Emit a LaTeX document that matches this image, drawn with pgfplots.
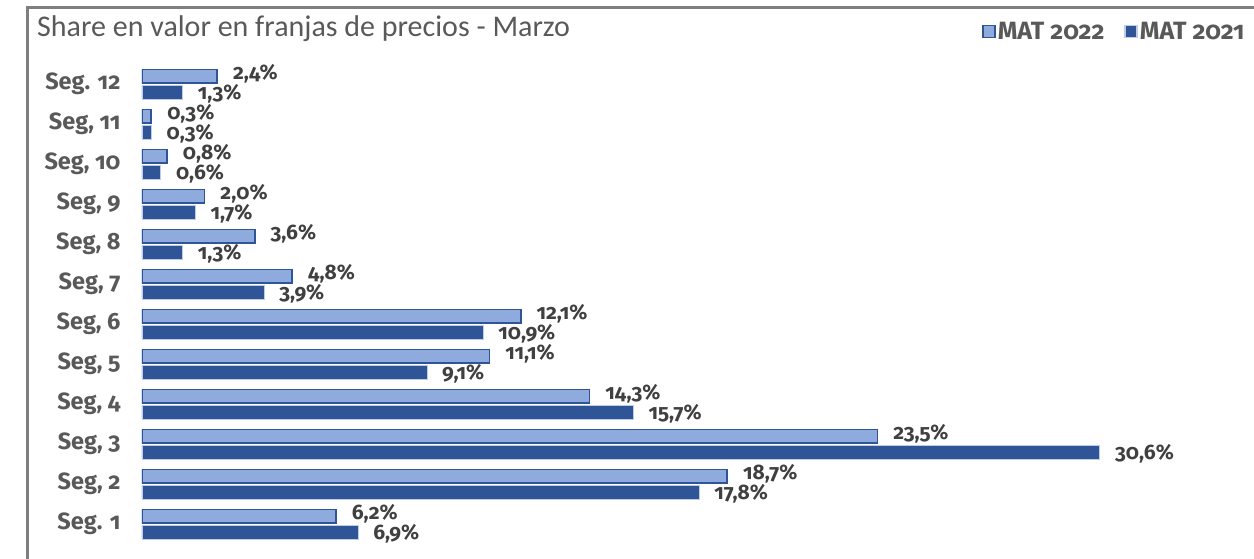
\documentclass[border=0pt]{standalone}
\usepackage{pgfplots}
\pgfplotsset{compat=1.18}
\usepackage{fontspec}
\setmainfont{Carlito}
\newfontfamily\lblfont{Fira Sans}[Numbers=OldStyle]
\definecolor{lightbar}{HTML}{8FAADC}
\definecolor{darkbar}{HTML}{2F5597}
\definecolor{txt}{HTML}{595959}
\definecolor{lbl}{HTML}{404040}
\definecolor{framec}{HTML}{7F7F7F}
\pgfplotsset{/pgf/number format/assume math mode=true}
\begin{document}
\begin{tikzpicture}[x=1pt,y=1pt]
\useasboundingbox (0,0) rectangle (1254,-558);
\draw[framec, line width=3pt] (27.5,-562) -- (27.5,-7.5) -- (1258,-7.5);
\node[anchor=west, text=txt, inner sep=0pt, font=\fontsize{30}{34}\selectfont] at (37,-29) {Share en valor en franjas de precios - Marzo};
\begin{axis}[
  at={(142pt,-548pt)}, anchor=south west,
  scale only axis, width=1095.5pt, height=488pt,
  xmin=0, xmax=35, ymin=0.4, ymax=12.6,
  xbar, bar width=13.5pt,
  axis line style={draw=none},
  xtick=\empty,
  ytick={1,...,12},
  yticklabels={Seg. 1, {Seg, 2}, {Seg, 3}, {Seg, 4}, {Seg, 5}, {Seg, 6}, {Seg, 7}, {Seg, 8}, {Seg, 9}, {Seg, 10}, {Seg, 11}, Seg. 12},
  major tick length=0pt,
  yticklabel style={text=txt, font=\lblfont\fontsize{23.5}{26}\selectfont\bfseries, xshift=-18pt},
  nodes near coords={\pgfmathprintnumber[fixed, fixed zerofill, precision=1, use comma]{\pgfplotspointmeta}\%},
  nodes near coords style={text=lbl, font=\lblfont\fontsize{21}{24}\selectfont\bfseries, anchor=west, inner sep=0pt, xshift=15pt},
  legend style={at={(1.011,1.058)}, anchor=east, legend columns=2, draw=none, fill=none,
    font=\lblfont\fontsize{25}{28}\selectfont\bfseries, text=txt,
    /tikz/every even column/.append style={column sep=18pt}},
  legend image code/.code={\draw[#1, line width=1.5pt] (0pt,-6pt) rectangle (12pt,6pt);},
]
\addplot[fill=lightbar, draw=darkbar, line width=1.8pt, bar shift=7.8pt,
  nodes near coords style={yshift=2pt}] coordinates {
(6.2,1) (18.7,2) (23.5,3) (14.3,4) (11.1,5) (12.1,6) (4.8,7) (3.6,8) (2.0,9) (0.8,10) (0.3,11) (2.4,12)};
\addplot[fill=darkbar, draw=lightbar!60!white, line width=0.6pt, bar shift=-8.2pt,
  nodes near coords style={yshift=-2pt}] coordinates {
(6.9,1) (17.8,2) (30.6,3) (15.7,4) (9.1,5) (10.9,6) (3.9,7) (1.3,8) (1.7,9) (0.6,10) (0.3,11) (1.3,12)};
\legend{MAT 2022, MAT 2021}
\end{axis}
\end{tikzpicture}
\end{document}
